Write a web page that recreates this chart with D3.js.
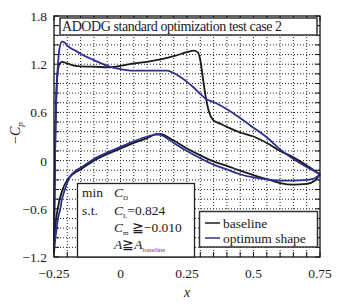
<!DOCTYPE html>
<html>
<head>
<meta charset="utf-8">
<script src="https://cdn.jsdelivr.net/npm/d3@7"></script>
<style>
  body { margin: 0; background: #fff; }
  text { font-family: "Liberation Serif", "Times New Roman", "DejaVu Serif", serif; fill: #1a1a1a; }
</style>
</head>
<body>
<script>
// baseline, upper surface (-Cp vs x), leading edge to trailing edge
var baseUpperX  = [-0.25, -0.246, -0.242, -0.237, -0.23, -0.22, -0.2, -0.17, -0.13, -0.1, -0.05, 0, 0.05, 0.1, 0.15, 0.2, 0.25, 0.275, 0.29, 0.3, 0.31, 0.32, 0.33, 0.35, 0.375, 0.4, 0.45, 0.5, 0.55, 0.6, 0.65, 0.7, 0.75];
var baseUpperCp = [-1.0, 0.1, 0.75, 1.08, 1.2, 1.23, 1.21, 1.18, 1.17, 1.17, 1.16, 1.18, 1.21, 1.23, 1.26, 1.3, 1.35, 1.37, 1.35, 1.25, 1.02, 0.8, 0.64, 0.5, 0.46, 0.42, 0.35, 0.3, 0.22, 0.12, 0.04, -0.06, -0.17];
// baseline, lower surface
var baseLowerX  = [-0.25, -0.245, -0.24, -0.23, -0.22, -0.2, -0.18, -0.15, -0.1, -0.05, 0, 0.05, 0.1, 0.136, 0.15, 0.2, 0.25, 0.3, 0.35, 0.4, 0.45, 0.5, 0.55, 0.6, 0.65, 0.7, 0.73, 0.75];
var baseLowerCp = [-1.0, -0.82, -0.68, -0.5, -0.38, -0.24, -0.17, -0.11, 0.0, 0.08, 0.15, 0.22, 0.28, 0.33, 0.33, 0.25, 0.15, 0.065, -0.01, -0.065, -0.125, -0.18, -0.23, -0.28, -0.3, -0.29, -0.25, -0.17];
// optimum shape, upper surface
var optUpperX  = [-0.25, -0.248, -0.245, -0.24, -0.235, -0.23, -0.22, -0.21, -0.2, -0.17, -0.15, -0.1, -0.05, 0, 0.05, 0.1, 0.15, 0.175, 0.2, 0.225, 0.25, 0.275, 0.3, 0.325, 0.35, 0.4, 0.45, 0.5, 0.55, 0.6, 0.65, 0.7, 0.75];
var optUpperCp = [-1.15, -0.5, 0.3, 0.9, 1.2, 1.38, 1.48, 1.47, 1.43, 1.37, 1.33, 1.25, 1.18, 1.14, 1.12, 1.12, 1.12, 1.12, 1.09, 1.04, 0.98, 0.91, 0.83, 0.76, 0.73, 0.64, 0.53, 0.41, 0.29, 0.14, 0.02, -0.08, -0.17];
// optimum shape, lower surface
var optLowerX  = [-0.25, -0.245, -0.24, -0.235, -0.227, -0.22, -0.209, -0.19, -0.17, -0.15, -0.1, -0.05, 0, 0.05, 0.1, 0.136, 0.15, 0.2, 0.25, 0.3, 0.35, 0.4, 0.45, 0.5, 0.55, 0.6, 0.65, 0.7, 0.73, 0.75];
var optLowerCp = [-1.15, -0.97, -0.85, -0.72, -0.61, -0.48, -0.36, -0.2, -0.13, -0.09, 0.02, 0.1, 0.17, 0.24, 0.3, 0.325, 0.32, 0.22, 0.12, 0.03, -0.05, -0.11, -0.17, -0.21, -0.235, -0.25, -0.25, -0.24, -0.22, -0.17];

var xTicks = [-0.25, 0, 0.25, 0.5, 0.75];
var xTickLabels = ["\u22120.25", "0", "0.25", "0.5", "0.75"];
var yTicks = [-1.2, -0.6, 0, 0.6, 1.2, 1.8];
var yTickLabels = ["\u22121.2", "\u22120.6", "0", "0.6", "1.2", "1.8"];

var W = 339, H = 306;
var x = d3.scaleLinear().domain([-0.25, 0.75]).range([54, 320]);
var y = d3.scaleLinear().domain([-1.2, 1.8]).range([257, 16]);

var svg = d3.select("body").append("svg")
    .attr("width", W).attr("height", H);

// dotted grid, 5 divisions between labelled ticks
var gx = d3.range(0, 21).map(i => -0.25 + i * 0.05);
var gy = d3.range(0, 26).map(i => -1.2 + i * 0.12);

svg.append("g").selectAll("line").data(gx.slice(1, -1)).join("line")
    .attr("x1", d => x(d)).attr("x2", d => x(d))
    .attr("y1", y(1.8)).attr("y2", y(-1.2))
    .attr("stroke", "#222").attr("stroke-width", 1).attr("stroke-dasharray", "1,2");
svg.append("g").selectAll("line").data(gy.slice(1, -1)).join("line")
    .attr("x1", x(-0.25)).attr("x2", x(0.75))
    .attr("y1", d => y(d)).attr("y2", d => y(d))
    .attr("stroke", "#222").attr("stroke-width", 1).attr("stroke-dasharray", "1,2");

// inward ticks on all four sides
var tl = 5;
svg.append("g").selectAll("line").data(gx).join("line")
    .attr("x1", d => x(d)).attr("x2", d => x(d))
    .attr("y1", y(-1.2)).attr("y2", y(-1.2) - tl).attr("stroke", "#111");
svg.append("g").selectAll("line").data(gx).join("line")
    .attr("x1", d => x(d)).attr("x2", d => x(d))
    .attr("y1", y(1.8)).attr("y2", y(1.8) + tl).attr("stroke", "#111");
svg.append("g").selectAll("line").data(gy).join("line")
    .attr("x1", x(-0.25)).attr("x2", x(-0.25) + tl)
    .attr("y1", d => y(d)).attr("y2", d => y(d)).attr("stroke", "#111");
svg.append("g").selectAll("line").data(gy).join("line")
    .attr("x1", x(0.75)).attr("x2", x(0.75) - tl)
    .attr("y1", d => y(d)).attr("y2", d => y(d)).attr("stroke", "#111");

// curves
var line = d3.line().x(d => x(d[0])).y(d => y(d[1])).curve(d3.curveMonotoneX);
var zip = (a, b) => a.map((v, i) => [v, b[i]]);
var curves = [
    { pts: zip(baseUpperX, baseUpperCp), color: "#1a1a1a" },
    { pts: zip(baseLowerX, baseLowerCp), color: "#1a1a1a" },
    { pts: zip(optUpperX, optUpperCp), color: "#2c2f8f" },
    { pts: zip(optLowerX, optLowerCp), color: "#2c2f8f" }
];
svg.append("g").selectAll("path").data(curves).join("path")
    .attr("d", d => line(d.pts))
    .attr("fill", "none")
    .attr("stroke", d => d.color)
    .attr("stroke-width", 1.8);

// frame
svg.append("rect")
    .attr("x", x(-0.25)).attr("y", y(1.8))
    .attr("width", x(0.75) - x(-0.25)).attr("height", y(-1.2) - y(1.8))
    .attr("fill", "none").attr("stroke", "#111").attr("stroke-width", 1.3);

// tick labels
svg.append("g").selectAll("text").data(yTicks).join("text")
    .attr("x", 47).attr("y", d => y(d) + 5)
    .attr("text-anchor", "end").attr("font-size", 13.5)
    .text((d, i) => yTickLabels[i]);
svg.append("g").selectAll("text").data(xTicks).join("text")
    .attr("x", d => x(d)).attr("y", 278)
    .attr("text-anchor", "middle").attr("font-size", 13.5)
    .text((d, i) => xTickLabels[i]);

// axis titles
svg.append("text").attr("x", x(0.25)).attr("y", 297)
    .attr("text-anchor", "middle").attr("font-size", 14).attr("font-style", "italic").text("x");
var yl = svg.append("text").attr("transform", "translate(20,133) rotate(-90)")
    .attr("text-anchor", "middle").attr("font-size", 14);
yl.append("tspan").text("\u2212");
yl.append("tspan").attr("font-style", "italic").text("C");
yl.append("tspan").attr("font-size", 9).attr("font-style", "italic").attr("dy", 3).text("p");

// title box
svg.append("rect").attr("x", 60).attr("y", 18).attr("width", 257).attr("height", 17)
    .attr("fill", "#fff").attr("stroke", "#333").attr("stroke-width", 1.5);
svg.append("text").attr("x", 62).attr("y", 31).attr("font-size", 14)
    .attr("textLength", 220).text("ADODG standard optimization test case 2");

// constraint box
svg.append("rect").attr("x", 77.5).attr("y", 183.5).attr("width", 117).attr("height", 73.5)
    .attr("fill", "#fff").attr("stroke", "#222").attr("stroke-width", 1.3);
var fs = 13.5, sub = 7;
function row(yy, parts) {
    var t = svg.append("text").attr("x", 114).attr("y", yy).attr("font-size", fs);
    parts.forEach(p => {
        var s = t.append("tspan").text(p.t);
        if (p.i) s.attr("font-style", "italic");
        if (p.sub) s.attr("font-size", sub).attr("dy", 3);
        if (p.up) s.attr("dy", -3);
        if (p.c) s.style("fill", p.c);
    });
}
svg.append("text").attr("x", 82).attr("y", 197).attr("font-size", fs).text("min");
svg.append("text").attr("x", 82).attr("y", 215).attr("font-size", fs).text("s.t.");
row(197, [{ t: "C", i: 1 }, { t: "D", sub: 1 }]);
row(215, [{ t: "C", i: 1 }, { t: "L", sub: 1 }, { t: "=0.824", up: 1 }]);
row(232, [{ t: "C", i: 1 }, { t: "m", sub: 1 }, { t: " \u2267\u22120.010", up: 1 }]);
row(249, [{ t: "A", i: 1 }, { t: "\u2267" }, { t: "A", i: 1 }, { t: "baseline", sub: 1, c: "#8a3a2a" }]);

// legend
svg.append("rect").attr("x", 199.5).attr("y", 211.5).attr("width", 118).attr("height", 35.5)
    .attr("fill", "#fff").attr("stroke", "#333").attr("stroke-width", 1.5);
var legend = [
    { name: "baseline", color: "#1a1a1a" },
    { name: "optimum shape", color: "#2c2f8f" }
];
var lg = svg.append("g").selectAll("g").data(legend).join("g")
    .attr("transform", (d, i) => `translate(205,${223 + i * 15})`);
lg.append("line").attr("x1", 0).attr("x2", 15)
    .attr("stroke", d => d.color).attr("stroke-width", 1.5);
lg.append("text").attr("x", 18).attr("y", 4.5).attr("font-size", 13.5).text(d => d.name);
</script>
</body>
</html>
